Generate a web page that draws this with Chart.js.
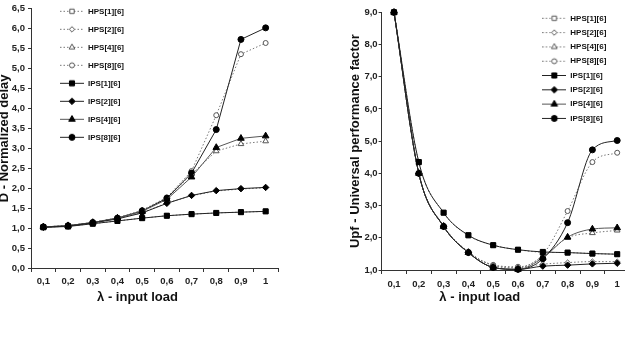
<!DOCTYPE html>
<html>
<head>
<meta charset="utf-8">
<script src="https://cdn.jsdelivr.net/npm/chart.js@4.4.0/dist/chart.umd.min.js"></script>
<style>
body{margin:0;background:#fff;overflow:hidden;width:625px;height:337px;position:relative}
canvas{position:absolute;top:0}
#delayChart{left:-3px}
#upfChart{left:330px}
</style>
</head>
<body>
<canvas id="delayChart" width="288" height="337"></canvas>
<canvas id="upfChart" width="325" height="337"></canvas>
<script>
const loads = ['0,1','0,2','0,3','0,4','0,5','0,6','0,7','0,8','0,9','1'];
const names = ['HPS[1][6]','HPS[2][6]','HPS[4][6]','HPS[8][6]','IPS[1][6]','IPS[2][6]','IPS[4][6]','IPS[8][6]'];

// D - normalized delay
const delayHps1 = [1.02,1.05,1.11,1.18,1.25,1.31,1.35,1.38,1.40,1.42];
const delayHps2 = [1.03,1.05,1.13,1.24,1.39,1.63,1.81,1.93,1.98,2.01];
const delayHps4 = [1.03,1.06,1.14,1.25,1.43,1.74,2.35,2.93,3.11,3.18];
const delayHps8 = [1.03,1.06,1.14,1.26,1.45,1.77,2.43,3.83,5.36,5.64];
const delayIps1 = [1.02,1.04,1.11,1.18,1.25,1.31,1.35,1.38,1.40,1.42];
const delayIps2 = [1.02,1.05,1.13,1.23,1.38,1.62,1.82,1.94,1.99,2.02];
const delayIps4 = [1.03,1.06,1.14,1.25,1.42,1.72,2.28,3.02,3.25,3.31];
const delayIps8 = [1.03,1.06,1.14,1.25,1.43,1.75,2.38,3.47,5.73,6.02];

// Upf - universal performance factor
const upfHps1 = [9.0,4.35,2.78,2.07,1.77,1.63,1.55,1.54,1.51,1.49];
const upfHps2 = [9.0,4.0,2.37,1.56,1.15,1.08,1.18,1.23,1.26,1.26];
const upfHps4 = [9.0,4.0,2.37,1.56,1.14,1.06,1.42,2.0,2.15,2.23];
const upfHps8 = [9.0,4.0,2.37,1.56,1.16,1.10,1.48,2.83,4.35,4.64];
const upfIps1 = [9.0,4.35,2.78,2.08,1.77,1.63,1.56,1.54,1.51,1.49];
const upfIps2 = [9.0,4.0,2.35,1.54,1.08,1.02,1.12,1.15,1.19,1.21];
const upfIps4 = [9.0,4.0,2.35,1.54,1.08,1.02,1.38,2.02,2.27,2.31];
const upfIps8 = [9.0,4.0,2.35,1.54,1.08,1.02,1.35,2.47,4.73,5.02];

Chart.defaults.font.family = '"Liberation Sans", Arial, sans-serif';
Chart.defaults.font.weight = 'bold';
Chart.defaults.color = '#111';

const shapes = ['rect','rectRot','triangle','circle'];
const radii = [3.6,3.2,3.8,3];

// style picked from the series position in names
function styleOf(i) {
  const hps = i < 4;
  const k = i % 4;
  return {
    hps: hps,
    shape: shapes[k],
    radius: hps ? radii[k] - 0.5 : radii[k],
    line: hps ? '#777' : (k == 2 ? '#555' : '#222'),
    fill: hps ? '#fff' : '#000',
    edge: hps ? '#555' : '#000'
  };
}

function legendIcon(i, w) {
  const s = styleOf(i);
  const c = document.createElement('canvas');
  c.width = w; c.height = 9;
  const ctx = c.getContext('2d');
  ctx.strokeStyle = s.line;
  ctx.lineWidth = 1;
  if (s.hps) ctx.setLineDash([1.5, 2]);
  ctx.beginPath(); ctx.moveTo(0, 4.5); ctx.lineTo(w, 4.5); ctx.stroke();
  ctx.setLineDash([]);
  ctx.fillStyle = s.fill;
  ctx.strokeStyle = s.edge;
  Chart.helpers.drawPoint(ctx, {pointStyle: s.shape, radius: s.radius, borderWidth: 1, rotation: 0}, w / 2, 4.5);
  return c;
}

// IPS sets go first so their filled markers sit on top
function makeSets(list, smooth) {
  const sets = list.map((vals, i) => {
    const s = styleOf(i);
    return {
      label: names[i],
      data: vals,
      borderColor: s.line,
      borderWidth: 1,
      borderDash: s.hps ? [1.5, 2] : [],
      pointStyle: s.shape,
      pointRadius: s.radius,
      pointBackgroundColor: s.fill,
      pointBorderColor: s.edge,
      pointBorderWidth: 1,
      cubicInterpolationMode: smooth ? 'monotone' : 'default',
      tension: 0,
      clip: false
    };
  });
  return sets.slice(4).concat(sets.slice(0, 4));
}

const comma = v => Number(v).toFixed(1).replace('.', ',');

function legendSpot(x, y) {
  return {
    id: 'legendSpot',
    beforeDraw(chart) {
      chart.legend.left = x;
      chart.legend.top = y;
    }
  };
}

function makeChart(id, sets, o) {
  return new Chart(document.getElementById(id), {
    type: 'line',
    data: {labels: loads, datasets: sets},
    options: {
      responsive: false,
      animation: false,
      layout: {padding: {top: o.top, right: o.right, left: 0, bottom: 0}},
      plugins: {
        legend: {
          position: 'chartArea',
          align: 'start',
          labels: {
            usePointStyle: true,
            pointStyleWidth: 24,
            padding: o.legendPad,
            font: {size: 8, weight: 'bold'},
            color: '#111',
            generateLabels: chart => Chart.defaults.plugins.legend.labels.generateLabels(chart)
              .map(l => Object.assign(l, {pointStyle: legendIcon(names.indexOf(l.text), 24)})),
            sort: (a, b) => names.indexOf(a.text) - names.indexOf(b.text)
          }
        },
        title: {
          display: true,
          position: 'bottom',
          text: '\u03bb - input load',
          font: {size: 13, weight: 'bold'},
          color: '#111',
          padding: {top: 0, bottom: 32.2}
        },
        tooltip: {enabled: false}
      },
      scales: {
        x: {
          offset: true,
          afterFit: s => { s.height = o.xHeight; },
          border: {color: '#333', width: 1},
          grid: {offset: true, drawOnChartArea: false, drawTicks: true, tickLength: 4, color: '#333'},
          ticks: {padding: o.xPad, font: {size: 9.5, weight: 'bold'}, color: '#222', maxRotation: 0}
        },
        y: {
          min: o.min,
          max: o.max,
          afterFit: s => { s.width = o.yWidth; },
          border: {color: '#333', width: 1},
          grid: {drawOnChartArea: false, drawTicks: true, tickLength: 3, color: '#333'},
          ticks: {stepSize: o.step, padding: o.yPad, font: {size: 9.5, weight: 'bold'}, color: '#222', callback: comma},
          title: {
            display: true,
            text: o.yTitle,
            font: {size: 13, weight: 'bold'},
            color: '#111',
            padding: {top: o.yTitlePad, bottom: 0}
          }
        }
      }
    },
    plugins: [legendSpot(o.legendX, o.legendY)]
  });
}

makeChart('delayChart',
  makeSets([delayHps1, delayHps2, delayHps4, delayHps8, delayIps1, delayIps2, delayIps4, delayIps8], false),
  {top: 8, right: 7, xHeight: 21.2, xPad: 4.1, yWidth: 34, yPad: 3, min: 0, max: 6.5, step: 0.5,
   yTitle: 'D - Normalized delay', yTitlePad: 0, legendPad: 10, legendX: 53, legendY: -2.7});

makeChart('upfChart',
  makeSets([upfHps1, upfHps2, upfHps4, upfHps8, upfIps1, upfIps2, upfIps4, upfIps8], true),
  {top: 12.3, right: 25.4, xHeight: 19.2, xPad: 4.7, yWidth: 51.6, yPad: 1, min: 1, max: 9, step: 1,
   yTitle: 'Upf - Universal performance factor', yTitlePad: 17.2, legendPad: 6.3, legendX: 206, legendY: 8});
</script>
</body>
</html>
